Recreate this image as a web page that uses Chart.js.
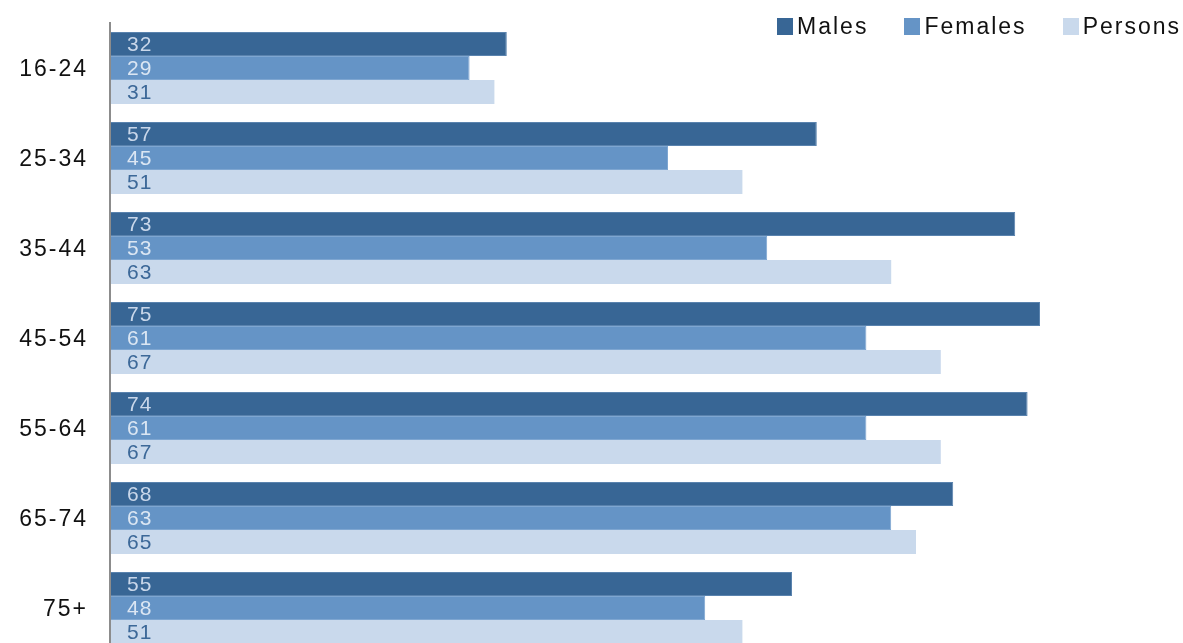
<!DOCTYPE html>
<html>
<head>
<meta charset="utf-8">
<title>Age groups</title>
<script src="https://cdn.jsdelivr.net/npm/chart.js@4/dist/chart.umd.min.js"></script>
<style>
  html, body { margin: 0; padding: 0; background: #fff; overflow: hidden; }
  #wrap { position: relative; width: 1183px; height: 643px; overflow: hidden; }
  #box { position: absolute; left: 0; top: 0; width: 1183px; height: 683px; }
  #legend { position: absolute; top: 13px; right: 2px; display: flex; font: 23px "Liberation Sans", Arial, sans-serif; letter-spacing: 2px; color: #111; }
  #legend .item { display: flex; align-items: center; margin-left: 36px; }
  #legend i { display: inline-block; width: 16px; height: 17px; margin-right: 4px; }
</style>
</head>
<body>
<div id="wrap">
  <div id="box"><canvas id="myChart"></canvas></div>
  <div id="legend"></div>
</div>
<script>
var ageGroups = ['16-24', '25-34', '35-44', '45-54', '55-64', '65-74', '75+']
var males = [32, 57, 73, 75, 74, 68, 55]
var females = [29, 45, 53, 61, 61, 63, 48]
var persons = [31, 51, 63, 67, 67, 65, 51]

// values written inside the bars, left aligned
var valueLabels = {
  id: 'valueLabels',
  beforeDraw: function (chart) {
    chart.ctx.letterSpacing = '2px'
  },
  afterDatasetsDraw: function (chart) {
    var ctx = chart.ctx
    ctx.save()
    ctx.letterSpacing = '1px'
    ctx.font = '21px "Liberation Sans"'
    ctx.textBaseline = 'middle'
    ctx.textAlign = 'left'
    chart.data.datasets.forEach(function (ds, i) {
      ctx.fillStyle = ds.labelColor
      chart.getDatasetMeta(i).data.forEach(function (bar, j) {
        ctx.fillText(ds.data[j], bar.base + 17, bar.y + 1)
      })
    })
    ctx.restore()
  }
}

var ctx = document.getElementById('myChart')
var myChart = new Chart(ctx, {
  type: 'bar',
  data: {
    labels: ageGroups,
    datasets: [{
      label: 'Males',
      data: males,
      backgroundColor: '#386695',
      borderColor: '#5a83ae',
      borderWidth: 1,
      labelColor: '#c9d7ea'
    }, {
      label: 'Females',
      data: females,
      backgroundColor: '#6594c6',
      borderColor: '#7ea6d1',
      borderWidth: 1,
      labelColor: '#dbe6f3'
    }, {
      label: 'Persons',
      data: persons,
      backgroundColor: '#c9d9ec',
      borderWidth: 0,
      labelColor: '#3c6898'
    }]
  },
  options: {
    indexAxis: 'y',
    responsive: true,
    maintainAspectRatio: false,
    animation: false,
    categoryPercentage: 0.8,
    barPercentage: 1.0,
    layout: { padding: { top: 23, right: 81, bottom: 30, left: 0 } },
    plugins: {
      legend: { display: false },
      tooltip: { enabled: false }
    },
    scales: {
      x: { display: false, min: 0, max: 80 },
      y: {
        grid: { display: false, drawTicks: false },
        border: { display: true, color: '#8c8c8c', width: 2, z: 1 },
        ticks: {
          color: '#111',
          padding: 22,
          labelOffset: 2,
          font: { family: 'Liberation Sans', size: 23 }
        },
        afterFit: function (scale) {
          scale.width = 110
          scale.paddingTop = 0
          scale.paddingBottom = 0
        }
      }
    }
  },
  plugins: [valueLabels]
})

// html legend built from the datasets
var legendEl = document.getElementById('legend')
myChart.data.datasets.forEach(function (ds) {
  var item = document.createElement('span')
  item.className = 'item'
  var sw = document.createElement('i')
  sw.style.background = ds.backgroundColor
  item.appendChild(sw)
  item.appendChild(document.createTextNode(ds.label))
  legendEl.appendChild(item)
})
</script>
</body>
</html>
